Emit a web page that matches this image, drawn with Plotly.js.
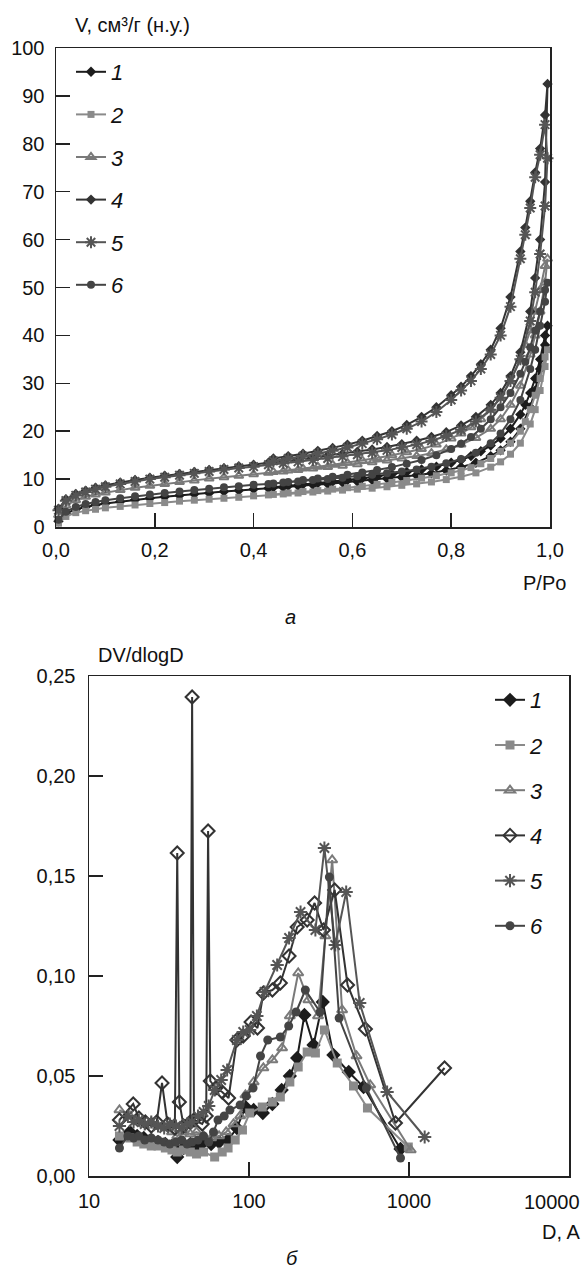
<!DOCTYPE html>
<html><head><meta charset="utf-8">
<script src="https://cdn.plot.ly/plotly-3.0.1.min.js"></script>
<style>
html,body{margin:0;padding:0;background:#fff}
#chart{width:587px;height:1274px}
</style>
</head><body><div id="chart"></div><script>
// ---------- Chart а: isotherms ----------
var pAds = [0.005,0.02,0.04,0.06,0.08,0.10,0.13,0.16,0.19,0.22,0.25,0.28,0.31,0.34,0.37,0.40,0.43,0.46,0.49,0.52,0.55,0.58,0.61,0.64,0.67,0.70,0.73,0.76,0.79,0.82,0.85,0.88,0.90,0.92,0.94,0.96,0.97,0.98,0.99,0.995];
var pDes = [0.99,0.98,0.97,0.96,0.95,0.94,0.92,0.90,0.88,0.86,0.84,0.82,0.80,0.77,0.74,0.71,0.68,0.65,0.62,0.59,0.56,0.53,0.50,0.47,0.44];

var ads1 = [1.2,2.8,3.7,4.2,4.6,4.9,5.3,5.7,6.0,6.3,6.6,6.9,7.1,7.4,7.6,7.9,8.1,8.3,8.6,8.8,9.0,9.3,9.5,9.8,10.1,10.4,10.8,11.2,11.8,12.5,13.4,14.8,16.0,17.8,20.5,25,28.5,33,38,42];
var des1 = [40,35,31,28,25.5,23.5,20.5,18.5,17,15.8,14.8,14.0,13.4,12.6,12.0,11.5,11.0,10.6,10.2,9.8,9.5,9.2,8.9,8.6,8.3];
var ads2 = [0.8,2.2,3.0,3.4,3.7,4.0,4.3,4.6,4.9,5.1,5.4,5.6,5.8,6.0,6.2,6.5,6.7,6.9,7.1,7.3,7.5,7.7,7.9,8.1,8.4,8.7,9.0,9.4,9.9,10.5,11.3,12.5,13.6,15.2,17.5,21.5,24.5,28.5,33.5,37];
var des2 = [35.5,31,27.5,24.5,22,20,17.5,15.8,14.3,13.2,12.4,11.8,11.3,10.7,10.2,9.7,9.3,8.9,8.5,8.2,7.9,7.6,7.4,7.1,6.8];
var ads3 = [2.5,4.5,5.6,6.3,6.8,7.2,7.7,8.2,8.6,9.0,9.4,9.7,10.1,10.4,10.7,11.0,11.3,11.6,11.9,12.2,12.5,12.8,13.1,13.5,13.9,14.3,14.8,15.4,16.2,17.2,18.6,20.5,22.5,25.5,29.5,36,40,45,51,56];
var des3 = [54.5,49.5,45,41,38,35,30.5,27,24.5,22.5,20.8,19.5,18.5,17.2,16.3,15.6,15.0,14.4,13.9,13.4,13.0,12.6,12.2,11.8,11.5];
var ads4 = [3.8,5.8,6.9,7.6,8.2,8.7,9.3,9.8,10.3,10.7,11.1,11.5,11.9,12.3,12.7,13.0,13.4,13.7,14.1,14.5,14.9,15.3,15.7,16.2,16.7,17.3,18.0,18.8,19.8,21.2,23.0,25.5,28,31.5,36.5,45,52,60,72,92.5];
var des4 = [86,79,74,68,62.5,57.5,48,41.5,37,34,31.5,29.3,27.5,25,23,21.3,20,19,18,17.2,16.5,15.9,15.3,14.8,14.3];
var ads5 = [3.5,5.5,6.6,7.3,7.9,8.4,9.0,9.5,10.0,10.4,10.8,11.2,11.6,12.0,12.3,12.6,13.0,13.3,13.6,14.0,14.3,14.7,15.1,15.5,16.0,16.6,17.2,18.0,19.0,20.3,22.0,24.5,27,30.5,35,43,49,57,67,77];
var des5 = [84,77.7,73,66.6,61,56,46,40,36,33,30.5,28.5,26.5,24,22,20.5,19.3,18.3,17.4,16.6,15.9,15.3,14.8,14.3,13.8];
var ads6 = [1.5,3.2,4.2,4.8,5.2,5.6,6.0,6.4,6.8,7.1,7.4,7.7,8.0,8.3,8.5,8.8,9.0,9.3,9.5,9.8,10.0,10.3,10.6,10.9,11.2,11.6,12.0,12.6,13.3,14.2,15.5,17.5,19.5,22.5,26.5,33,37,42,47,51];
var des6 = [49.5,45,41,37.5,34.5,32,28,25,22.5,20.5,18.8,17.4,16.3,15.0,14.0,13.2,12.5,11.9,11.4,10.9,10.5,10.1,9.8,9.4,9.1];

var topXTickVals = [0,0.2,0.4,0.6,0.8,1.0];
var topXTickText = ['0,0','0,2','0,4','0,6','0,8','1,0'];
var topYTickVals = [0,10,20,30,40,50,60,70,80,90,100];
var topYTickText = ['0','10','20','30','40','50','60','70','80','90','100'];

// ---------- Chart б: pore size distribution ----------
var D1 = [15.5,18,20,22,24.5,27,30,33,35.6,39,43,47,52,58,65,74,84,95,107,122,140,160,180,200,222,253,289,337,420,520,885];
var V1 = [0.018,0.022,0.02,0.019,0.018,0.017,0.016,0.015,0.0095,0.014,0.016,0.015,0.017,0.016,0.017,0.018,0.024,0.0345,0.033,0.0315,0.036,0.043,0.05,0.059,0.0805,0.0655,0.087,0.0605,0.052,0.0445,0.0135];
var D2 = [15.5,18,20,22,24.5,27,30,33,35.6,39,43,47,52,61,68,74,82,91,101,121,140,157,180,203,231,260,296,356,450,550,990];
var V2 = [0.02,0.019,0.017,0.016,0.015,0.015,0.014,0.013,0.012,0.013,0.012,0.011,0.012,0.0095,0.012,0.014,0.018,0.023,0.0315,0.0345,0.037,0.0395,0.047,0.0545,0.062,0.0615,0.073,0.0565,0.045,0.034,0.0145];
var D3 = [15.5,18,20,22,24.5,27,30,33,35.6,39,43,47,52,58,65,72,80,88,95,107,123,140,161,180,203,235,270,300,331,382,470,572,1025];
var V3 = [0.033,0.03,0.028,0.026,0.027,0.025,0.024,0.022,0.02,0.022,0.021,0.022,0.02,0.019,0.02,0.022,0.026,0.03,0.0405,0.047,0.054,0.058,0.064,0.08,0.1015,0.088,0.08,0.12,0.158,0.083,0.06,0.0455,0.013];
var D4 = [15.5,18.9,20.5,22.5,24.5,26.5,28.6,31,34.4,35.6,36.7,39,43,44.1,45.3,51,54,55.5,57.3,62,68,74.5,84,92,103,113,123,140,157,178,200,231,257,292,343,413,534,823,1668];
var V4 = [0.028,0.036,0.029,0.027,0.025,0.027,0.0465,0.026,0.024,0.1615,0.037,0.025,0.027,0.2395,0.028,0.026,0.03,0.1725,0.0475,0.044,0.042,0.039,0.068,0.07,0.077,0.074,0.0915,0.093,0.0965,0.11,0.1245,0.128,0.1365,0.123,0.143,0.0955,0.0735,0.0265,0.054];
var D5 = [15.5,17.5,19,20.5,22.3,24.5,27,29.5,32,35,38,41,44,48,52,56,61,67,73,84,92,101,112,125,150,178,210,260,296,346,405,492,730,1253];
var V5 = [0.025,0.03,0.027,0.028,0.026,0.027,0.025,0.024,0.026,0.025,0.024,0.026,0.027,0.03,0.032,0.035,0.043,0.048,0.053,0.068,0.072,0.073,0.08,0.092,0.1055,0.119,0.132,0.123,0.164,0.1155,0.142,0.0865,0.042,0.0195];
var D6 = [15.5,17.5,19,20.5,22.3,24.5,27,29.5,32,35,38,41,44,48,52,56,60,64,70,76,88,96,106,118,131,157,177,197,225,278,318,366,542,885];
var V6 = [0.014,0.02,0.019,0.02,0.018,0.019,0.018,0.017,0.016,0.017,0.018,0.016,0.017,0.018,0.02,0.017,0.022,0.028,0.03,0.033,0.0355,0.04,0.044,0.06,0.068,0.0695,0.075,0.082,0.093,0.082,0.1495,0.079,0.044,0.009];

var botXTickVals = [10,100,1000,10000];
var botXTickText = ['10','100','1000',''];
var botXLastLabel = '10000';
var botYTickVals = [0,0.05,0.10,0.15,0.20,0.25];
var botYTickText = ['0,00','0,05','0,10','0,15','0,20','0,25'];

var seriesNames = ['<i>1</i>','<i>2</i>','<i>3</i>','<i>4</i>','<i>5</i>','<i>6</i>'];

// ---------- styles ----------
var FONT = 'Liberation Sans';
var FS = 20;
var colors = ['#1c1c1c','#8a8a8a','#7a7a7a','#333333','#555555','#444444'];
var topSymbols = ['diamond','square','triangle-up-open','diamond','asterisk-open','circle'];
var botSymbols = ['diamond','square','triangle-up-open','diamond-open','asterisk-open','circle'];
var topSizes = [8,7,8,8,10,8];
var botSizes = [11,9,9,10,11,9];

var topData = [[ads1,des1],[ads2,des2],[ads3,des3],[ads4,des4],[ads5,des5],[ads6,des6]];
var botData = [[D1,V1],[D2,V2],[D3,V3],[D4,V4],[D5,V5],[D6,V6]];

var traces = [];
topData.forEach(function(s,i){
  var open = topSymbols[i].indexOf('open')>=0;
  traces.push({
    type:'scatter', mode:'lines+markers', xaxis:'x', yaxis:'y',
    x: pAds.concat(pDes), y: s[0].concat(s[1]),
    name: seriesNames[i], legend:'legend', legendgroup:'a'+i,
    cliponaxis:false,
    line:{color:colors[i], width:2},
    marker:{symbol:topSymbols[i], size:topSizes[i], color:colors[i],
            line:{color:colors[i], width: open?2:0}}
  });
});
botData.forEach(function(s,i){
  var open = botSymbols[i].indexOf('open')>=0;
  traces.push({
    type:'scatter', mode:'lines+markers', xaxis:'x2', yaxis:'y2',
    x: s[0], y: s[1],
    name: seriesNames[i], legend:'legend2', legendgroup:'b'+i,
    cliponaxis:false,
    line:{color:colors[i], width:2},
    marker:{symbol:botSymbols[i], size:botSizes[i], color:colors[i],
            line:{color:colors[i], width: open?2:0}}
  });
});

var W=587, H=1274;
function px(x){return x/W;}
function py(y){return (H-y)/H;}

var axBase = {
  showline:true, mirror:true, linecolor:'#222', linewidth:1.5,
  ticks:'inside', ticklen:14, tickwidth:1.5, tickcolor:'#222',
  showgrid:false, zeroline:false, fixedrange:true,
  tickfont:{family:FONT, size:FS, color:'#111'}, tickmode:'array'
};
function ax(extra){ return Object.assign({}, axBase, extra); }

var ann = function(text, x, y, xa, ya, italic){
  return {text: italic?('<i>'+text+'</i>'):text, xref:'paper', yref:'paper', x:px(x), y:py(y),
    xanchor:xa, yanchor:ya, showarrow:false, font:{family:FONT, size:FS, color:'#111'}};
};

var layout = {
  width:W, height:H, margin:{l:0,r:0,t:0,b:0},
  paper_bgcolor:'#fff', plot_bgcolor:'#fff',
  font:{family:FONT, size:FS, color:'#111'},
  xaxis: ax({domain:[px(56),px(550)], range:[0,1], anchor:'y',
    tickvals:topXTickVals, ticktext:topXTickText, ticklabelstandoff:4}),
  yaxis: ax({domain:[py(527),py(48)], range:[0,100], anchor:'x',
    tickvals:topYTickVals, ticktext:topYTickText, ticklabelstandoff:6}),
  xaxis2: ax({domain:[px(89),px(569)], type:'log', range:[1,4], anchor:'y2',
    tickvals:botXTickVals, ticktext:botXTickText, ticklabelstandoff:6}),
  yaxis2: ax({domain:[py(1176),py(676)], range:[0,0.25], anchor:'x2',
    tickvals:botYTickVals, ticktext:botYTickText, ticklabelstandoff:8}),
  legend: {x:px(71), y:py(51), xanchor:'left', yanchor:'top', bgcolor:'rgba(0,0,0,0)',
    font:{family:FONT, size:22, color:'#111'}, traceorder:'grouped', tracegroupgap:11,
    borderwidth:0},
  legend2: {x:px(490), y:py(679), xanchor:'left', yanchor:'top', bgcolor:'rgba(0,0,0,0)',
    font:{family:FONT, size:22, color:'#111'}, traceorder:'grouped', tracegroupgap:13.6,
    borderwidth:0},
  annotations: [
    ann('V, см³/г (н.у.)', 73, 25, 'left', 'middle'),
    ann('P/Po', 568, 583, 'right', 'middle'),
    ann('а', 290, 617, 'center', 'middle', true),
    ann('DV/dlogD', 96, 655, 'left', 'middle'),
    {text: botXLastLabel, xref:'x2', yref:'paper', x:Math.log10(botXTickVals[3]), y:py(1202),
     xanchor:'right', yanchor:'middle', xshift:13, showarrow:false,
     font:{family:FONT, size:FS, color:'#111'}},
    ann('D, A', 582, 1232, 'right', 'middle'),
    ann('б', 292, 1258, 'center', 'middle', true)
  ],
  showlegend:true
};

Plotly.newPlot('chart', traces, layout, {staticPlot:true, displayModeBar:false});
</script></body></html>
